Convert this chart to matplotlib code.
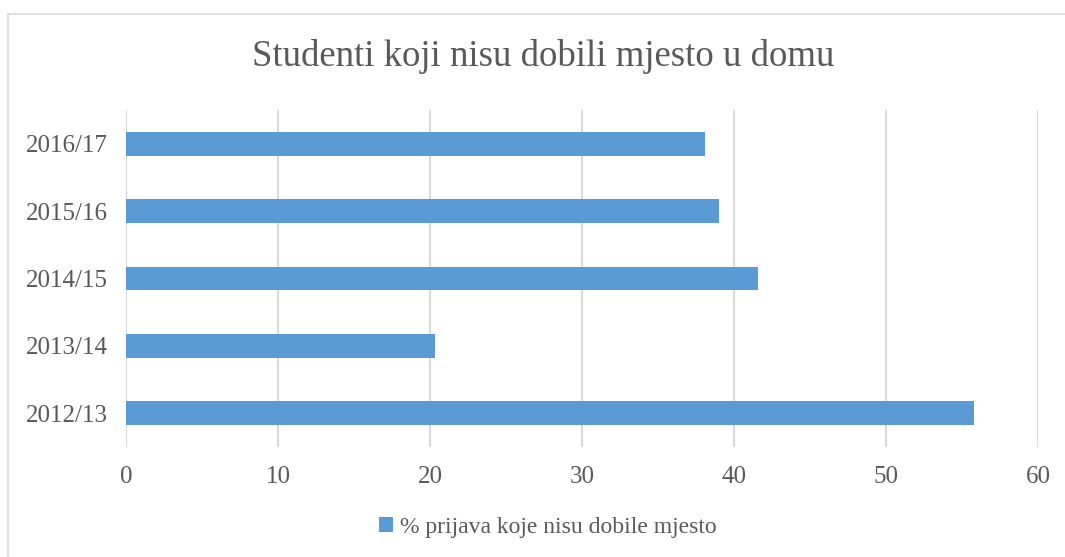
import matplotlib.pyplot as plt
from matplotlib.patches import Rectangle

# data
years = ['2012/13', '2013/14', '2014/15', '2015/16', '2016/17']
percent = [55.8, 20.3, 41.6, 39.0, 38.1]
series_name = '% prijava koje nisu dobile mjesto'

plt.rcParams['font.family'] = ['Liberation Serif', 'DejaVu Serif']
grey = '#595959'
blue = '#5b9bd5'

fig = plt.figure(figsize=(10.65, 5.57), dpi=100)
ax = fig.add_axes([0.1183, 0.1975, 0.8563, 0.6050])

# light frame around the whole chart
fig.patches.append(Rectangle((8 / 1065, -0.01), 1.02, 1 - 14 / 557 + 0.01,
                             transform=fig.transFigure, fill=False,
                             edgecolor='#d9d9d9', linewidth=1.2))

ax.barh(years, percent, height=0.35, color=blue, label=series_name, zorder=3)

ax.set_xlim(0, 60)
ax.set_ylim(-0.5, 4.5)
ax.set_xticks(range(0, 61, 10))
ax.grid(axis='x', color='#d9d9d9', linewidth=1.5, zorder=0)
for s in ax.spines.values():
    s.set_visible(False)
ax.tick_params(length=0, labelsize=18, colors=grey)
ax.tick_params(axis='x', pad=14)
ax.tick_params(axis='y', pad=13)

fig.text(543 / 1065, 1 - 57 / 557, 'Studenti koji nisu dobili mjesto u domu',
         ha='center', va='center', fontsize=26.5, color=grey)

fig.legend(loc='center', bbox_to_anchor=(548 / 1065, 1 - 527 / 557), frameon=False,
           fontsize=17, labelcolor=grey, handlelength=0.6, handleheight=0.6,
           handletextpad=0.3)

fig.savefig('out.png', dpi=100)
